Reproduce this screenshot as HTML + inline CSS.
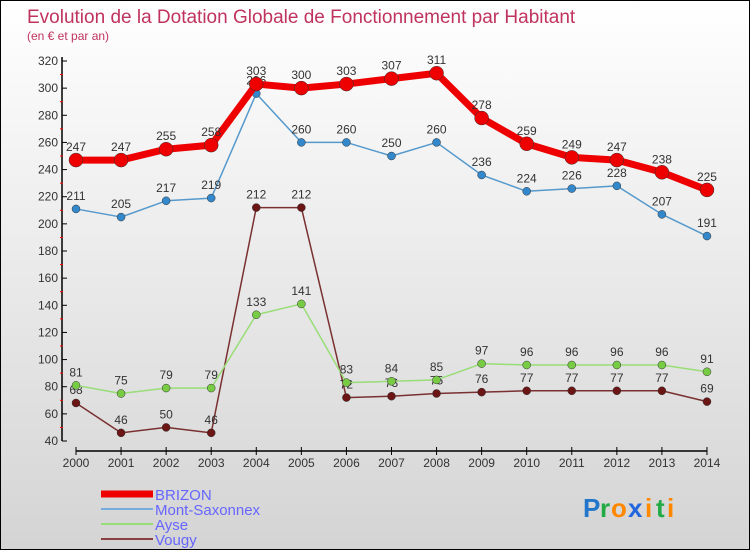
<!DOCTYPE html>
<html><head><meta charset="utf-8"><style>
body{margin:0}
#c{width:748px;height:548px;border:1px solid #000;background:linear-gradient(#fff,#d4d4d4);position:relative;overflow:hidden;font-family:"Liberation Sans",sans-serif}
</style></head><body>
<div id="c">
<svg id="s" width="748" height="548" style="position:absolute;left:0;top:0">
<text x="26" y="22" font-size="19" fill="#c0335f">Evolution de la Dotation Globale de Fonctionnement par Habitant</text>
<text x="26" y="39" font-size="12" fill="#c0335f">(en € et par an)</text>
</svg>
</div>
<script>
const years=["2000","2001","2002","2003","2004","2005","2006","2007","2008","2009","2010","2011","2012","2013","2014"];
const brizon=[247,247,255,258,303,300,303,307,311,278,259,249,247,238,225];
const montSaxonnex=[211,205,217,219,296,260,260,250,260,236,224,226,228,207,191];
const ayse=[81,75,79,79,133,141,83,84,85,97,96,96,96,96,91];
const vougy=[68,46,50,46,212,212,72,73,75,76,77,77,77,77,69];
const yTicks=[40,60,80,100,120,140,160,180,200,220,240,260,280,300,320];
const NS="http://www.w3.org/2000/svg";
const s=document.getElementById('s');
const X=i=>75+i*45.07, Y=v=>440-(v-40)*380/280;
function el(t,a,n){const e=document.createElementNS(NS,t);for(const k in a)e.setAttribute(k,a[k]);s.appendChild(e);return e;}
let ax=el('line',{x1:61,y1:56,x2:61,y2:440,stroke:'#000','stroke-width':1.5});


yTicks.forEach(v=>{
 let t=el('line',{x1:61,x2:66,y1:Y(v),y2:Y(v),stroke:'#000'});
 
 
 if(v<320){let m=el('line',{x1:59,x2:62,y1:Y(v+10),y2:Y(v+10),stroke:'#f00'});
 
 }
 let l=el('text',{x:57,y:Y(v)+4,'font-size':12,'text-anchor':'end',fill:'#333'});l.textContent=v;
 
 
});
let xa=el('line',{x1:75,y1:450,x2:706,y2:450,stroke:'#000','stroke-width':1.5});


years.forEach((y,i)=>{
 let t=el('line',{x1:X(i),x2:X(i),y1:446,y2:454,stroke:'#000'});
 
 
 let l=el('text',{x:X(i),y:466,'font-size':12,'text-anchor':'middle',fill:'#333'});l.textContent=y;
 
 
});
function series(d,col,w,r,name,dot){
 let p=el('polyline',{points:d.map((v,i)=>X(i)+','+Y(v)).join(' '),fill:'none',stroke:col,'stroke-width':w,'stroke-linejoin':'round'});
 
 
 d.forEach((v,i)=>{
  let c=el('circle',{cx:X(i),cy:Y(v),r:r,fill:dot,stroke:'#333','stroke-width':0.5});
  
  
  let l=el('text',{x:X(i),y:Y(v)-9,'font-size':12,'text-anchor':'middle',fill:'#333'});l.textContent=v;
  
  
 });
}
series(vougy,'#7a3030',1.5,4,'vougy','#6b1515');
series(ayse,'#99dd77',1.5,4,'ayse','#77cc44');
series(montSaxonnex,'#5599cc',1.5,4,'mont-saxonnex','#3388cc');
series(brizon,'#ee0000',7,7,'brizon','#ee0000');
const leg=[['BRIZON','#ee0000',7],['Mont-Saxonnex','#77aadd',2],['Ayse','#99dd77',2],['Vougy','#8a4040',2]];
leg.forEach((L,i)=>{
 let y=493+i*15;
 let ln=el('line',{x1:100,x2:152,y1:y,y2:y,stroke:L[1],'stroke-width':L[2]});
 
 
 let t=el('text',{x:154,y:y+6,'font-size':15,fill:'#6666ff'});t.textContent=L[0];
 
 
});
const logo=[['P','#2277cc'],['r','#22aa44'],['o','#ff8800'],['x','#2266dd'],['i','#ff8800'],['t','#22aa44'],['i','#ff8800']];
let lx=582;
logo.forEach(c=>{let t=el('text',{x:lx,y:516,'font-size':26,'font-weight':'bold',fill:c[1]});t.textContent=c[0];
 
 
 lx+= (c[0]=='i'||c[0]=='t'||c[0]=='r')?11:17;});
</script>
</body></html>
